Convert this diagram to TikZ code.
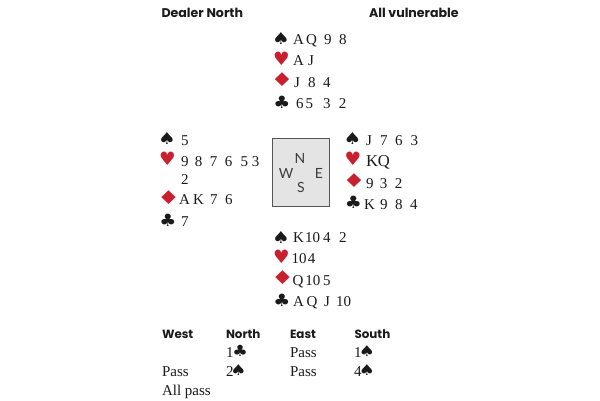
\documentclass[tikz,border=0pt]{standalone}
\usepackage{graphicx}
\usepackage{fontspec}
\setmainfont{Liberation Serif}
\newfontfamily\headfont{Poppins}
\newfontfamily\boxfont{Lato}
\newfontfamily\suitfont{DejaVu Sans}
\definecolor{suitred}{HTML}{C8202F}
\definecolor{suitblack}{HTML}{1A1A1A}
\definecolor{boxgrey}{HTML}{E4E4E4}
\definecolor{boxedge}{HTML}{555555}
\newcommand{\kk}[1]{\kern#1pt\relax}
\newcommand{\Spd}{\scalebox{1.2}[1]{♠}}
\newcommand{\Hrt}{\scalebox{1.12}[1.12]{♥}}
\newcommand{\Dmd}{\scalebox{1.55}[1.15]{♦}}
\newcommand{\Clb}{\scalebox{1.15}[1.03]{♣}}
\tikzset{
  x=1pt,y=-1pt,
  every node/.style={inner sep=0pt,outer sep=0pt},
  rank/.style={anchor=base west,font=\fontsize{15}{15}\selectfont,text=suitblack},
  bid/.style={anchor=base west,font=\fontsize{15}{15}\selectfont,text=suitblack},
  head/.style={anchor=base west,font=\headfont\bfseries\fontsize{12.6}{13}\selectfont,text=suitblack},
  headb/.style={anchor=base west,font=\headfont\bfseries\fontsize{11.9}{13}\selectfont,text=suitblack},
  dir/.style={anchor=center,font=\boxfont\fontsize{14}{14}\selectfont,text=suitblack!85},
  blacksuit/.style={anchor=center,font=\suitfont\fontsize{16.5}{16.5}\selectfont,text=suitblack},
  redsuit/.style={anchor=center,font=\suitfont\fontsize{16.5}{16.5}\selectfont,text=suitred},
  smallsuit/.style={anchor=center,font=\suitfont\fontsize{15}{15}\selectfont,text=suitblack},
  compass/.style={draw=boxedge,line width=1pt,fill=boxgrey}
}
\begin{document}
\begin{tikzpicture}
\useasboundingbox (0,0) rectangle (600,400);
\fill[white] (0,0) rectangle (600,400);
% headings
\node[head] (dealer) at (161.5,17) {Dealer North};
\node[head] (vul) at (369,17) {All vulnerable};
% north
\node[blacksuit] (ns) at (281,38) {\Spd};
\node[redsuit] (nh) at (281.5,59) {\Hrt};
\node[redsuit] (nd) at (282,80) {\Dmd};
\node[blacksuit] (nc) at (282,102) {\Clb};
\node[rank] (nsr) at (293,44) {A\kk{2.2}Q\kk{7.2}9\kk{7.5}8};
\node[rank] (nhr) at (293,65.5) {A\kk{4.2}J};
\node[rank] (ndr) at (294,87) {J\kk{8.2}8\kk{7.5}4};
\node[rank] (ncr) at (296,108) {6\kk{2.2}5\kk{9.8}3\kk{8.5}2};
% west
\node[blacksuit] (ws) at (167,138) {\Spd};
\node[redsuit] (wh) at (167.5,159) {\Hrt};
\node[redsuit] (wd) at (168.5,198) {\Dmd};
\node[blacksuit] (wc) at (168,220) {\Clb};
\node[rank] (wsr) at (181,145) {5};
\node[rank] (whr) at (181,166) {9\kk{6.5}8\kk{7.5}7\kk{7.5}6\kk{8.2}5\kk{3.8}3};
\node[rank] (whr2) at (181,184) {2};
\node[rank] (wdr) at (179,204) {A\kk{3.2}K\kk{6.2}7\kk{7.5}6};
\node[rank] (wcr) at (181,226) {7};
% compass
\node[compass,minimum width=57.5pt,minimum height=68pt,anchor=north west] (table) at (272,138) {};
\node[dir] (dn) at (300,158) {N};
\node[dir] (dw) at (286,173) {W};
\node[dir] (de) at (319,173) {E};
\node[dir] (ds) at (301,187) {S};
% east
\node[blacksuit] (es) at (352.5,138) {\Spd};
\node[redsuit] (eh) at (353,159) {\Hrt};
\node[redsuit] (ed) at (354,181) {\Dmd};
\node[blacksuit] (ec) at (353.5,202) {\Clb};
\node[rank] (esr) at (366,145) {J\kk{8.2}7\kk{7.5}6\kk{8.2}3};
\node[rank,font=\fontsize{16.6}{16.6}\selectfont] (ehr) at (366,166) {KQ};
\node[rank] (edr) at (366,188) {9\kk{6.5}3\kk{7.5}2};
\node[rank] (ecr) at (364,209) {K\kk{5.2}9\kk{7.5}8\kk{7.5}4};
% south
\node[blacksuit] (ss) at (281,237) {\Spd};
\node[redsuit] (sh) at (281.5,257) {\Hrt};
\node[redsuit] (sd) at (282.5,278) {\Dmd};
\node[blacksuit] (sc) at (282,300) {\Clb};
\node[rank] (ssr) at (293,242) {K\kk{1.2}10\kk{3}4\kk{8.5}2};
\node[rank] (shr) at (291.7,263) {10\kk{1.3}4};
\node[rank] (sdr) at (292.7,285) {Q\kk{1.8}10\kk{2.7}5};
\node[rank] (scr) at (293,306) {A\kk{2.7}Q\kk{6.7}J\kk{6.2}10};
% auction
\node[headb] (hw) at (162,338) {West};
\node[headb] (hn) at (226,338) {North};
\node[headb] (he) at (290,338) {East};
\node[headb] (hs) at (354.5,338) {South};
\node[bid] (b1) at (226,357) {1};
\node[smallsuit] (b1s) at (240,351) {\Clb};
\node[bid] (b2) at (290,357) {Pass};
\node[bid] (b3) at (354,357) {1};
\node[smallsuit] (b3s) at (367,351) {\Spd};
\node[bid] (b4) at (162,376) {Pass};
\node[bid] (b5) at (226,376) {2};
\node[smallsuit] (b5s) at (238.5,370) {\Spd};
\node[bid] (b6) at (290,376) {Pass};
\node[bid] (b7) at (354,376) {4};
\node[smallsuit] (b7s) at (367,370) {\Spd};
\node[bid] (b8) at (162,395) {All pass};
\end{tikzpicture}
\end{document}
